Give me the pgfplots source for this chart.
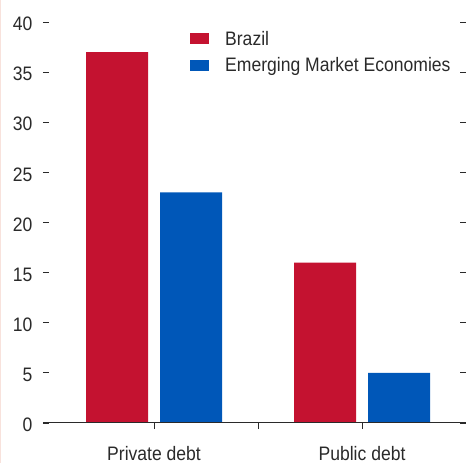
\documentclass[border=0pt]{standalone}
\usepackage{pgfplots}
\pgfplotsset{compat=1.18}
\usepackage{fontspec}
\setmainfont{Liberation Sans}[FakeStretch=0.9]
\definecolor{brred}{HTML}{C41230}
\definecolor{emblue}{HTML}{0057B8}
\definecolor{txt}{HTML}{2A2A2A}
\definecolor{pinkedge}{HTML}{F8E2DC}
\begin{document}
\begin{tikzpicture}
\begin{axis}[
  scale only axis, width=423pt, height=401pt,
  xmin=-0.534, xmax=1.5, ymin=0, ymax=40,
  axis line style={draw=none},
  ytick={0,5,...,40},
  xtick={0,0.5,1},
  xticklabels={Private debt,,Public debt},
  xtick pos=bottom, ytick pos=both,
  tick align=inside,
  major tick length=6pt,
  tick style={txt, line width=0.8pt},
  font=\fontsize{19.5}{23}\selectfont,
  ticklabel style={txt},
  /pgf/number format/assume math mode=true,
  yticklabel style={xshift=-7pt, yshift=-2pt},
  xticklabel style={yshift=-14pt},
  ybar, bar width=62pt,
  legend style={at={(rel axis cs:0.3475,0.983)}, anchor=north west, draw=none, fill=none,
     inner sep=0pt, row sep=7pt, column sep=14pt, font=\fontsize{19.5}{23}\selectfont\color{txt}},
  legend cell align=left,
  legend image code/.code={\fill[#1] (0pt,-5.5pt) rectangle (19pt,5.5pt);},
]
\addplot[fill=brred, draw=none, bar shift=-37pt] coordinates {(0,37) (1,16)};
\addlegendentry{Brazil}
\addplot[fill=emblue, draw=none, bar shift=37pt] coordinates {(0,23) (1,5)};
\addlegendentry{Emerging Market Economies}
\draw[txt, line width=1pt] (rel axis cs:0,0) -- (rel axis cs:1,0);
\end{axis}
\pgfresetboundingbox
\path (current axis.south west) ++(-43pt,-40pt) coordinate (bl);
\path (current axis.north east) ++(0pt,22pt) coordinate (tr);
\useasboundingbox (bl) rectangle (tr);
\draw[pinkedge, line width=2pt] (bl) -- (bl |- tr);
\end{tikzpicture}
\end{document}
